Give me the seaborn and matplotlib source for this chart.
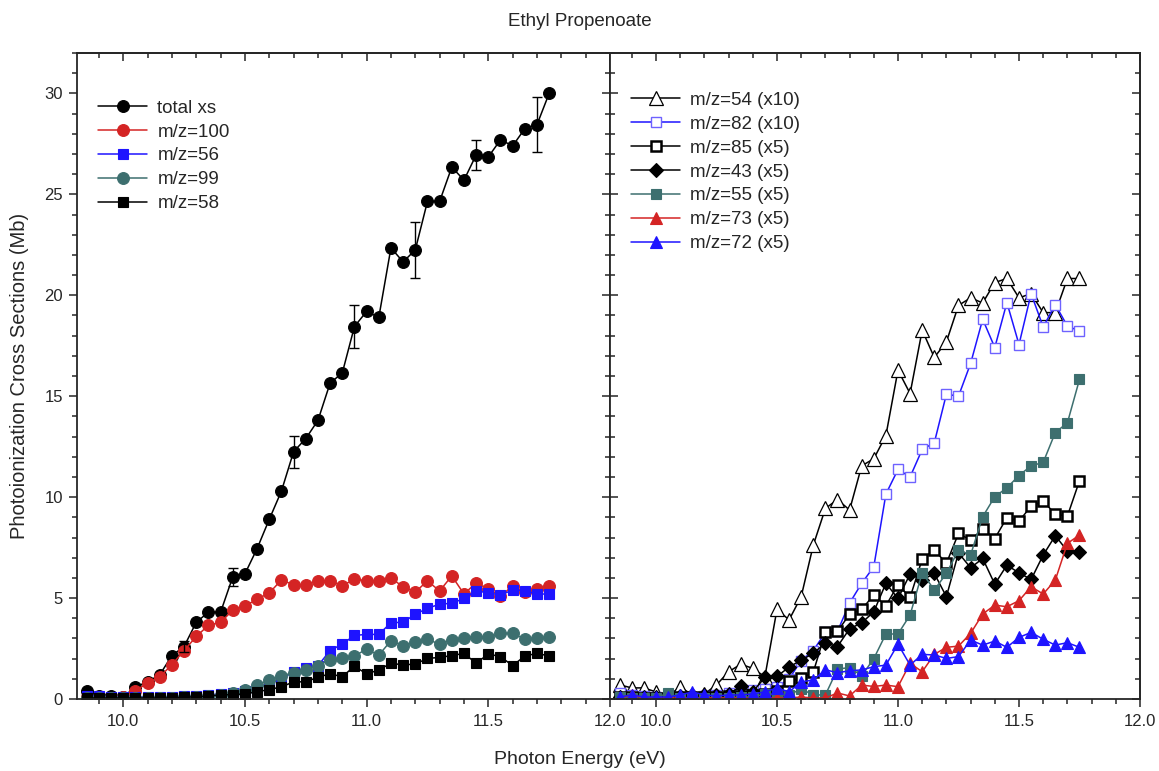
import matplotlib
matplotlib.use("Agg")
import matplotlib.pyplot as plt
import seaborn as sns
from matplotlib.ticker import MultipleLocator

# Photon energy grid (eV)
energy = [9.85, 9.90, 9.95, 10.00, 10.05, 10.10, 10.15, 10.20, 10.25, 10.30,
          10.35, 10.40, 10.45, 10.50, 10.55, 10.60, 10.65, 10.70, 10.75, 10.80,
          10.85, 10.90, 10.95, 11.00, 11.05, 11.10, 11.15, 11.20, 11.25, 11.30,
          11.35, 11.40, 11.45, 11.50, 11.55, 11.60, 11.65, 11.70, 11.75]

# Left panel: total and major fragment cross sections (Mb)
total_xs = [0.40, 0.15, 0.15, 0.10, 0.60, 0.85, 1.20, 2.15, 2.60, 3.80,
            4.30, 4.30, 6.05, 6.20, 7.45, 8.90, 10.30, 12.25, 12.90, 13.80,
            15.65, 16.15, 18.45, 19.20, 18.90, 22.35, 21.65, 22.25, 24.65, 24.65,
            26.35, 25.70, 26.95, 26.85, 27.70, 27.40, 28.25, 28.45, 30.00]
mz100 = [0.10, 0.05, 0.05, 0.10, 0.40, 0.80, 1.10, 1.70, 2.40, 3.10,
         3.65, 3.80, 4.40, 4.60, 4.95, 5.25, 5.90, 5.65, 5.65, 5.85,
         5.85, 5.60, 5.95, 5.85, 5.85, 6.00, 5.55, 5.30, 5.85, 5.35,
         6.10, 5.20, 5.75, 5.45, 5.10, 5.60, 5.30, 5.45, 5.60]
mz56 = [0.15, 0.15, 0.10, 0.10, 0.10, 0.10, 0.10, 0.10, 0.15, 0.15,
        0.20, 0.25, 0.30, 0.40, 0.55, 0.75, 1.00, 1.35, 1.55, 1.65,
        2.40, 2.72, 3.15, 3.20, 3.20, 3.78, 3.80, 4.20, 4.49, 4.70,
        4.74, 4.98, 5.36, 5.26, 5.15, 5.40, 5.36, 5.20, 5.20]
mz99 = [0.05, 0.05, 0.05, 0.05, 0.05, 0.05, 0.05, 0.05, 0.10, 0.10,
        0.15, 0.20, 0.30, 0.45, 0.70, 0.92, 1.15, 1.30, 1.45, 1.65,
        1.95, 2.03, 2.13, 2.47, 2.17, 2.89, 2.63, 2.81, 2.95, 2.72,
        2.92, 3.00, 3.09, 3.06, 3.25, 3.25, 2.97, 3.00, 3.06]
mz58 = [0.05, 0.05, 0.05, 0.05, 0.05, 0.05, 0.05, 0.05, 0.10, 0.10,
        0.15, 0.20, 0.22, 0.25, 0.36, 0.47, 0.60, 0.85, 0.85, 1.08,
        1.25, 1.10, 1.63, 1.24, 1.44, 1.77, 1.69, 1.73, 2.01, 2.06,
        2.15, 2.26, 1.77, 2.23, 2.10, 1.65, 2.13, 2.26, 2.13]

# Uncertainty on the total cross section
err_energy = [10.25, 10.45, 10.70, 10.95, 11.20, 11.45, 11.70]
err_value = [2.60, 6.05, 12.25, 18.45, 22.25, 26.95, 28.45]
err_size = [0.25, 0.45, 0.80, 1.05, 1.40, 0.75, 1.35]

# Right panel: minor fragments, scaled (Mb)
mz54 = [0.70, 0.55, 0.55, 0.35, 0.15, 0.60, 0.20, 0.25, 0.70, 1.35,
        1.72, 1.52, 1.10, 4.44, 3.92, 5.07, 7.62, 9.44, 9.88, 9.36,
        11.55, 11.90, 13.05, 16.29, 15.13, 18.27, 16.92, 17.69, 19.50, 19.87,
        19.62, 20.63, 20.83, 19.87, 20.08, 19.14, 19.14, 20.83, 20.83]
mz82 = [0.30, 0.20, 0.15, 0.10, 0.10, 0.10, 0.10, 0.15, 0.20, 0.30,
        0.35, 0.45, 0.50, 0.60, 1.00, 1.90, 2.40, 3.30, 3.35, 4.75,
        5.73, 6.55, 10.15, 11.37, 11.00, 12.36, 12.69, 15.10, 15.00, 16.62,
        18.81, 17.41, 19.64, 17.56, 20.08, 18.43, 19.54, 18.47, 18.23]
mz85 = [0.10, 0.10, 0.05, 0.05, 0.05, 0.10, 0.10, 0.10, 0.10, 0.15,
        0.15, 0.20, 0.25, 0.40, 0.87, 1.03, 1.33, 3.30, 3.35, 4.20,
        4.44, 5.15, 4.62, 5.66, 5.03, 6.93, 7.38, 6.72, 8.20, 7.87,
        8.42, 7.95, 8.98, 8.81, 9.55, 9.80, 9.16, 9.06, 10.81]
mz43 = [0.10, 0.10, 0.10, 0.10, 0.10, 0.15, 0.20, 0.20, 0.20, 0.25,
        0.62, 0.36, 1.07, 1.12, 1.58, 1.93, 2.26, 2.78, 2.60, 3.48,
        3.77, 4.32, 5.73, 4.98, 6.19, 5.89, 6.22, 5.07, 7.24, 6.50,
        6.96, 5.69, 6.63, 6.25, 5.92, 7.13, 8.09, 7.33, 7.29]
mz55 = [0.10, 0.05, 0.05, 0.05, 0.30, 0.05, 0.05, 0.05, 0.05, 0.05,
        0.10, 0.10, 0.25, 0.20, 0.20, 0.50, 0.20, 0.20, 1.48, 1.56,
        1.15, 2.00, 3.22, 3.22, 4.16, 6.25, 5.40, 6.22, 7.38, 7.13,
        9.03, 10.02, 10.46, 11.07, 11.55, 11.72, 13.20, 13.68, 15.83]
mz73 = [0.05, 0.20, 0.05, 0.05, 0.05, 0.05, 0.05, 0.05, 0.05, 0.05,
        0.05, 0.05, 0.05, 0.05, 0.05, 0.10, 0.05, 0.05, 0.30, 0.15,
        0.69, 0.62, 0.69, 0.61, 1.77, 1.35, 2.21, 2.56, 2.62, 3.25,
        4.21, 4.65, 4.57, 4.87, 5.56, 5.20, 5.89, 7.71, 8.12]
mz72 = [0.10, 0.20, 0.10, 0.10, 0.10, 0.20, 0.35, 0.20, 0.15, 0.20,
        0.20, 0.25, 0.35, 0.55, 0.35, 0.85, 0.94, 1.45, 1.30, 1.40,
        1.44, 1.60, 1.68, 2.72, 1.68, 2.21, 2.18, 2.01, 2.10, 2.92,
        2.67, 2.87, 2.56, 3.05, 3.30, 2.96, 2.67, 2.79, 2.56]

left_labels = ["total xs", "m/z=100", "m/z=56", "m/z=99", "m/z=58"]
right_labels = ["m/z=54 (x10)", "m/z=82 (x10)", "m/z=85 (x5)", "m/z=43 (x5)",
                "m/z=55 (x5)", "m/z=73 (x5)", "m/z=72 (x5)"]

RED = "#d42424"
BLUE = "#1e14ff"
TEAL = "#3d6f6f"
LIGHTBLUE = "#6e62ff"

sns.set_theme(style="ticks")
plt.rcParams["font.family"] = ["Liberation Sans", "DejaVu Sans"]
plt.rcParams["axes.linewidth"] = 1.2

fig = plt.figure(figsize=(11.59, 7.71), dpi=100)
ax_l = fig.add_axes([77 / 1159, 72 / 771, 533 / 1159, 646 / 771])
ax_r = fig.add_axes([610 / 1159, 72 / 771, 530 / 1159, 646 / 771])

# (values, label, marker, size, face, edge, line colour, edge width)
left_series = [
    (total_xs, left_labels[0], "o", 8.5, "black", "black", "black", 0.8),
    (mz100, left_labels[1], "o", 8.5, RED, RED, RED, 0.8),
    (mz56, left_labels[2], "s", 7.0, BLUE, BLUE, BLUE, 0.8),
    (mz99, left_labels[3], "o", 8.5, TEAL, TEAL, TEAL, 0.8),
    (mz58, left_labels[4], "s", 7.0, "black", "black", "black", 0.8),
]
right_series = [
    (mz54, right_labels[0], "^", 9.5, "white", "black", "black", 0.9),
    (mz82, right_labels[1], "s", 7.5, "white", LIGHTBLUE, BLUE, 1.0),
    (mz85, right_labels[2], "s", 7.0, "white", "black", "black", 1.8),
    (mz43, right_labels[3], "D", 7.5, "black", "black", "black", 0.8),
    (mz55, right_labels[4], "s", 7.5, TEAL, TEAL, TEAL, 0.8),
    (mz73, right_labels[5], "^", 9.0, RED, RED, RED, 0.8),
    (mz72, right_labels[6], "^", 9.0, BLUE, BLUE, BLUE, 0.8),
]

for ax, series in ((ax_l, left_series), (ax_r, right_series)):
    for vals, lab, mk, ms, fc, ec, lc, mew in series:
        sns.lineplot(x=energy, y=vals, ax=ax, color=lc, linewidth=1.1,
                     marker=mk, markersize=ms, markerfacecolor=fc,
                     markeredgecolor=ec, markeredgewidth=mew, label=lab,
                     estimator=None, errorbar=None)

ax_l.errorbar(err_energy, err_value, yerr=err_size, fmt="none",
              ecolor="black", elinewidth=1.0, capsize=3.5, capthick=1.0,
              zorder=5)

for ax in (ax_l, ax_r):
    ax.set_xlim(9.81, 12.0)
    ax.set_ylim(0, 32)
    ax.xaxis.set_major_locator(MultipleLocator(0.5))
    ax.xaxis.set_minor_locator(MultipleLocator(0.1))
    ax.yaxis.set_major_locator(MultipleLocator(5))
    ax.yaxis.set_minor_locator(MultipleLocator(1))
    ax.xaxis.set_major_formatter(plt.FuncFormatter(lambda v, p: f"{v:.1f}"))
    ax.set_xlabel("")
    ax.set_ylabel("")
    for s in ax.spines.values():
        s.set_visible(True)
        s.set_linewidth(1.3)
    ax.tick_params(axis="x", which="both", direction="out", bottom=True,
                   top=False, labelsize=12, pad=5, width=1.1)
    ax.tick_params(axis="x", which="major", length=6)
    ax.tick_params(axis="x", which="minor", length=3.5)
    # inward ticks along the top edge
    top = ax.secondary_xaxis("top")
    top.xaxis.set_major_locator(MultipleLocator(0.5))
    top.xaxis.set_minor_locator(MultipleLocator(0.1))
    top.tick_params(axis="x", which="both", direction="in", labeltop=False,
                    width=1.1)
    top.tick_params(axis="x", which="major", length=6)
    top.tick_params(axis="x", which="minor", length=3.5)
    top.spines["top"].set_linewidth(1.3)

ax_l.tick_params(axis="y", which="both", direction="out", left=True,
                 right=False, labelsize=12, pad=4, width=1.1)
ax_l.tick_params(axis="y", which="major", length=6)
ax_l.tick_params(axis="y", which="minor", length=3.5)

ax_r.tick_params(axis="y", which="both", direction="inout", left=True,
                 right=False, labelleft=False, width=1.1)
ax_r.tick_params(axis="y", which="major", length=12)
ax_r.tick_params(axis="y", which="minor", length=7)
rside = ax_r.secondary_yaxis("right")
rside.yaxis.set_major_locator(MultipleLocator(5))
rside.yaxis.set_minor_locator(MultipleLocator(1))
rside.tick_params(axis="y", which="both", direction="in", labelright=False,
                  width=1.1)
rside.tick_params(axis="y", which="major", length=6)
rside.tick_params(axis="y", which="minor", length=3.5)

legend_kw = dict(frameon=False, fontsize=13.5, handlelength=2.6,
                 handletextpad=0.55, labelspacing=0.36, borderpad=0,
                 borderaxespad=0, loc="upper left", numpoints=1)
for ax, labels, anchor in ((ax_l, left_labels, (0.040, 0.928)),
                           (ax_r, right_labels, (0.040, 0.940))):
    h, l = ax.get_legend_handles_labels()
    lookup = dict(zip(l, h))
    ax.legend([lookup[t] for t in labels], labels, bbox_to_anchor=anchor,
              **legend_kw)

fig.text(0.5, 1 - 21 / 771, "Ethyl Propenoate", ha="center", va="center",
         fontsize=13.5)
fig.text(0.5, 1 - 760 / 771, "Photon Energy (eV)", ha="center",
         va="center", fontsize=14)
fig.text(20 / 1159, 1 - 376 / 771, "Photoionization Cross Sections (Mb)",
         ha="center", va="center", rotation=90, fontsize=14.5)

fig.savefig("out.png", dpi=100)
